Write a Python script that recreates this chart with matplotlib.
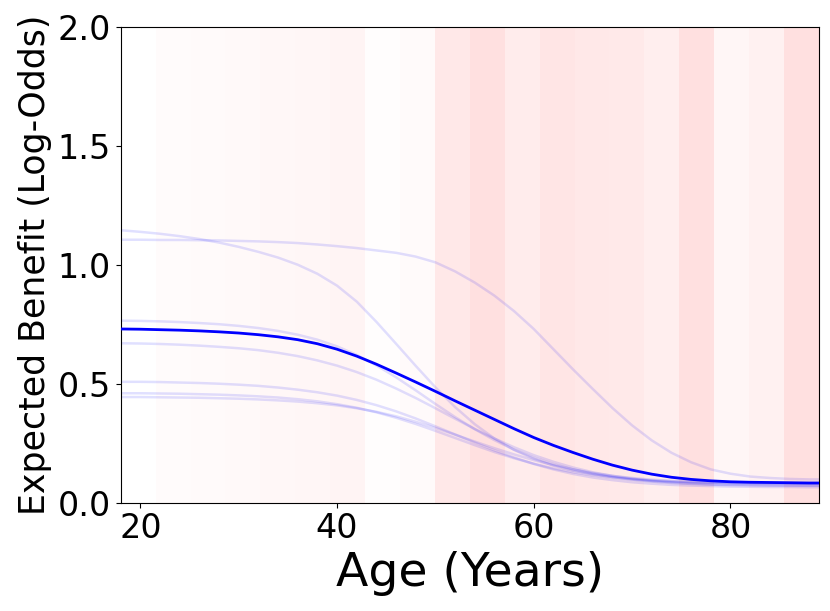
import matplotlib
matplotlib.use("Agg")
import matplotlib.pyplot as plt
import numpy as np

# Age grid the curves were read on
ages = list(range(18, 89, 2)) + [89]

# Mean expected benefit (solid blue)
mean_benefit = [0.730, 0.729, 0.727, 0.725, 0.722, 0.718, 0.713, 0.706, 0.697,
                0.685, 0.668, 0.645, 0.616, 0.582, 0.545, 0.507, 0.468, 0.428,
                0.389, 0.350, 0.311, 0.274, 0.241, 0.211, 0.183, 0.158, 0.137,
                0.120, 0.107, 0.098, 0.092, 0.088, 0.086, 0.085, 0.084, 0.083,
                0.083]

# Individual sampled curves (faint)
sample_a = [1.145, 1.138, 1.130, 1.120, 1.108, 1.093, 1.075, 1.054, 1.030,
            1.000, 0.962, 0.912, 0.845, 0.760, 0.668, 0.575, 0.485, 0.402,
            0.330, 0.270, 0.222, 0.185, 0.156, 0.135, 0.119, 0.108, 0.100,
            0.094, 0.090, 0.087, 0.085, 0.084, 0.083, 0.082, 0.082, 0.081,
            0.081]
sample_b = [1.105, 1.105, 1.104, 1.104, 1.103, 1.102, 1.100, 1.098, 1.095,
            1.091, 1.085, 1.078, 1.070, 1.060, 1.050, 1.034, 1.010, 0.972,
            0.925, 0.870, 0.805, 0.730, 0.645, 0.560, 0.478, 0.398, 0.325,
            0.262, 0.210, 0.170, 0.140, 0.122, 0.110, 0.104, 0.100, 0.098,
            0.098]
sample_c = [0.765, 0.764, 0.762, 0.759, 0.755, 0.750, 0.743, 0.734, 0.722,
            0.706, 0.685, 0.657, 0.621, 0.577, 0.527, 0.472, 0.415, 0.360,
            0.309, 0.263, 0.223, 0.190, 0.162, 0.140, 0.122, 0.108, 0.097,
            0.089, 0.083, 0.079, 0.076, 0.074, 0.073, 0.072, 0.072, 0.071,
            0.071]
sample_d = [0.670, 0.669, 0.667, 0.664, 0.660, 0.655, 0.649, 0.641, 0.630,
            0.616, 0.598, 0.576, 0.549, 0.517, 0.480, 0.440, 0.397, 0.353,
            0.310, 0.270, 0.233, 0.200, 0.172, 0.148, 0.128, 0.113, 0.101,
            0.092, 0.086, 0.081, 0.078, 0.076, 0.075, 0.074, 0.073, 0.073,
            0.073]
sample_e = [0.508, 0.508, 0.507, 0.505, 0.503, 0.500, 0.496, 0.491, 0.484,
            0.475, 0.464, 0.450, 0.432, 0.410, 0.384, 0.354, 0.321, 0.287,
            0.253, 0.220, 0.190, 0.163, 0.140, 0.121, 0.106, 0.095, 0.086,
            0.080, 0.075, 0.072, 0.070, 0.068, 0.067, 0.066, 0.066, 0.065,
            0.065]
sample_f = [0.460, 0.460, 0.459, 0.458, 0.456, 0.454, 0.451, 0.447, 0.442,
            0.435, 0.426, 0.414, 0.399, 0.380, 0.357, 0.331, 0.302, 0.272,
            0.242, 0.213, 0.187, 0.164, 0.144, 0.128, 0.115, 0.105, 0.097,
            0.091, 0.087, 0.084, 0.082, 0.080, 0.079, 0.078, 0.078, 0.077,
            0.077]
sample_g = [0.444, 0.444, 0.443, 0.442, 0.441, 0.439, 0.437, 0.434, 0.430,
            0.425, 0.418, 0.409, 0.397, 0.382, 0.363, 0.340, 0.314, 0.286,
            0.257, 0.229, 0.203, 0.179, 0.158, 0.140, 0.125, 0.113, 0.104,
            0.097, 0.092, 0.089, 0.087, 0.085, 0.084, 0.083, 0.083, 0.082,
            0.082]
samples = [sample_a, sample_b, sample_c, sample_d, sample_e, sample_f, sample_g]

# Background age bins and their shading strength
bin_edges = np.linspace(18, 89, 21)
bin_alpha = [0.0, 0.015, 0.018, 0.022, 0.03, 0.035, 0.045, 0.008, 0.02, 0.09,
             0.12, 0.075, 0.10, 0.09, 0.085, 0.065, 0.12, 0.035, 0.055, 0.12]

fig = plt.figure(figsize=(8.3, 6.11), dpi=100)
ax = fig.add_axes([0.1454, 0.1772, 0.8413, 0.7791])

for lo, hi, a in zip(bin_edges[:-1], bin_edges[1:], bin_alpha):
    ax.axvspan(lo, hi, color="red", alpha=a, lw=0, zorder=0)

for s in samples:
    ax.plot(ages, s, color="blue", alpha=0.12, lw=1.8, zorder=2)
ax.plot(ages, mean_benefit, color="blue", lw=2, zorder=3)

ax.set_xlim(18, 89)
ax.set_ylim(0, 2)
ax.set_xticks([20, 40, 60, 80])
ax.set_yticks([0.0, 0.5, 1.0, 1.5, 2.0])
ax.tick_params(labelsize=24)
ax.set_xlabel("Age (Years)", fontsize=34)
ax.set_ylabel("Expected Benefit (Log-Odds)", fontsize=25)

plt.savefig("out.png", dpi=100)
